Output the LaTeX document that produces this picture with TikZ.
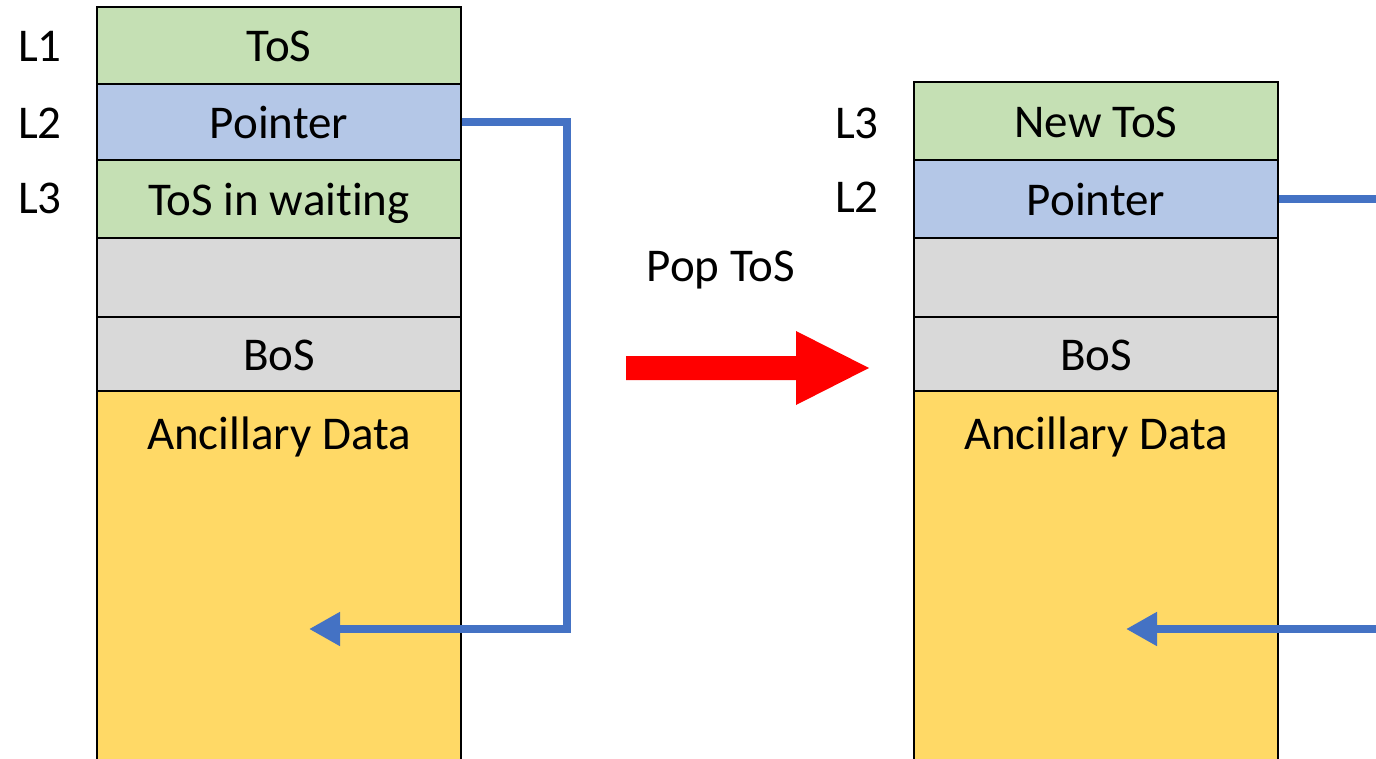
\documentclass[tikz,border=0pt]{standalone}
\usepackage{fontspec}
\setmainfont[Ligatures=NoCommon]{Carlito}
\usetikzlibrary{arrows.meta}
\definecolor{cgreen}{HTML}{C5E0B4}
\definecolor{cblue}{HTML}{B4C7E7}
\definecolor{cgray}{HTML}{D9D9D9}
\definecolor{cyellow}{HTML}{FFD966}
\definecolor{cline}{HTML}{4472C4}
\begin{document}
\begin{tikzpicture}[x=1pt,y=-1pt,
  font=\fontsize{47}{56}\selectfont,
  cell/.style={draw=black, line width=1.6pt, minimum width=364pt, inner sep=0pt, text height=33pt, text depth=0pt},
  lvl/.style={inner sep=0pt, text height=30pt, text depth=0pt},
  link/.style={draw=cline, line width=8pt, line join=miter},
  tip/.style={-{Triangle[length=31pt,width=32pt]}}]
\clip (0,0) rectangle (1376,759);
\fill[white] (0,0) rectangle (1376,759);
% left stack
\node[cell, fill=cgreen, minimum height=77pt] (a1) at (279,45.5) {ToS};
\node[cell, fill=cblue, minimum height=76pt] (a2) at (279,122) {Pointer};
\node[cell, fill=cgreen, minimum height=78pt] (a3) at (279,199) {ToS in waiting};
\node[cell, fill=cgray, minimum height=79pt] (a4) at (279,277.5) {};
\node[cell, fill=cgray, minimum height=74pt] (a5) at (279,354) {BoS};
\node[cell, fill=cyellow, minimum height=380pt] (a6) at (279,581) {};
\node[lvl] (a6t) at (279,434) {Ancillary Data};
\node[lvl] (l1) at (40,47) {L1};
\node[lvl] (l2) at (40,124) {L2};
\node[lvl] (l3) at (40,199) {L3};
% right stack
\node[cell, fill=cgreen, minimum height=78pt] (b1) at (1096,121) {New ToS};
\node[cell, fill=cblue, minimum height=78pt] (b2) at (1096,199) {Pointer};
\node[cell, fill=cgray, minimum height=79pt] (b3) at (1096,277.5) {};
\node[cell, fill=cgray, minimum height=74pt] (b4) at (1096,354) {BoS};
\node[cell, fill=cyellow, minimum height=380pt] (b5) at (1096,581) {};
\node[lvl] (b5t) at (1096,434) {Ancillary Data};
\node[lvl] (m3) at (857,124) {L3};
\node[lvl] (m2) at (857,198) {L2};
% pop label and red arrow
\node[lvl] (pop) at (721,267) {Pop ToS};
\fill[red] (626,356) -- (796,356) -- (796,331) -- (869,368) -- (796,405) -- (796,380) -- (626,380) -- cycle;
% left pointer link
\coordinate (c1) at (567,629);
\coordinate (t1) at (309,629);
\draw[link, tip] (a2.east) -| (c1) -- (t1);
% right pointer link
\coordinate (r1) at (1390,199);
\coordinate (r2) at (1390,629);
\coordinate (t2) at (1126,629);
\draw[link] (b2.east) -- (r1);
\draw[link, tip] (r2) -- (t2);
\end{tikzpicture}
\end{document}
